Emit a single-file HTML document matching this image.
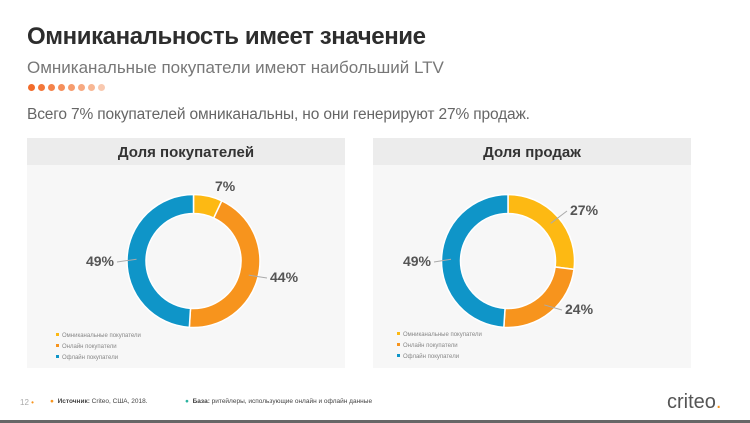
<!DOCTYPE html>
<html><head><meta charset="utf-8"><style>
body{margin:0;width:750px;height:423px;overflow:hidden;background:#fff;font-family:"Liberation Sans","DejaVu Sans",sans-serif;position:relative}
.t{position:absolute;white-space:nowrap}
.panel{position:absolute;top:138px;width:318px;height:230px;background:#f7f7f7}
.ph{position:absolute;left:0;top:0;width:100%;height:27px;background:#ececec;text-align:center;font-weight:bold;font-size:15px;line-height:29px;color:#333}
.dot{display:inline-block;width:7px;height:7px;border-radius:50%;margin-right:3px}
</style></head><body>
<div class="t" style="left:27px;top:23px;font-size:24px;letter-spacing:-0.4px;font-weight:bold;color:#2d2d2d">Омниканальность имеет значение</div>
<div class="t" style="left:27px;top:58px;font-size:17px;color:#777">Омниканальные покупатели имеют наибольший LTV</div>
<div class="t" style="left:28px;top:84px;font-size:0">
<span class="dot" style="background:#f26b2a"></span><span class="dot" style="background:#f3773a"></span><span class="dot" style="background:#f4834b"></span><span class="dot" style="background:#f58f5c"></span><span class="dot" style="background:#f69c6e"></span><span class="dot" style="background:#f7a981"></span><span class="dot" style="background:#f8b794"></span><span class="dot" style="background:#f9c9b0"></span></div>
<div class="t" style="left:27px;top:106px;font-size:15.5px;letter-spacing:-0.15px;color:#666">Всего 7% покупателей омниканальны, но они генерируют 27% продаж.</div>

<div class="panel" style="left:27px"><div class="ph">Доля покупателей</div></div>
<div class="panel" style="left:373px"><div class="ph">Доля продаж</div></div>

<svg id="ch" width="750" height="423" style="position:absolute;left:0;top:0"></svg>

<div class="t" style="left:20px;top:398px;font-size:8px;color:#aaa">12 <span style="color:#f7941d">•</span></div>
<div class="t" style="left:50px;top:398px;font-size:6.5px;color:#444"><span style="color:#f7941d">●</span>&nbsp; <b>Источник:</b> Criteo, США, 2018.</div>
<div class="t" style="left:185px;top:398px;font-size:6.5px;color:#444"><span style="color:#2ab3a0">●</span>&nbsp; <b>База:</b> ритейлеры, использующие онлайн и офлайн данные</div>
<div class="t" style="left:667px;top:391px;font-size:20px;color:#555">criteo<span style="color:#f7941d">.</span></div>
<div style="position:absolute;left:0;top:420px;width:750px;height:3px;background:#666"></div>

<script>
const categories=["Омниканальные покупатели","Онлайн покупатели","Офлайн покупатели"];
const colors=["#fdb913","#f7941d","#0f95c8"];
const buyersValues=[7,44,49];
const salesValues=[27,24,49];
const svg=document.getElementById('ch');
const NS="http://www.w3.org/2000/svg";
function mk(t,a){const e=document.createElementNS(NS,t);for(const k in a)e.setAttribute(k,a[k]);svg.appendChild(e);return e;}
function angle(v,total){return v/total*2*Math.PI;}
function pt(cx,cy,r,a){return [cx+r*Math.sin(a),cy-r*Math.cos(a)];}
function donut(cx,cy,vals,name,labelPos){
  const total=vals.reduce((a,b)=>a+b,0);const ro=66.5,ri=47.5;let a0=0;
  vals.forEach((v,i)=>{
    const a1=a0+angle(v,total);const lg=(a1-a0)>Math.PI?1:0;
    const p1=pt(cx,cy,ro,a0),p2=pt(cx,cy,ro,a1),p3=pt(cx,cy,ri,a1),p4=pt(cx,cy,ri,a0);
    const p=mk('path',{d:`M${p1}A${ro},${ro} 0 ${lg} 1 ${p2}L${p3}A${ri},${ri} 0 ${lg} 0 ${p4}Z`,fill:colors[i],stroke:'#fff','stroke-width':1.5});
    
    
    const mid=(a0+a1)/2;const m=pt(cx,cy,(ro+ri)/2,mid);
    const lp=labelPos[i];
    if(lp.line){const ln=mk('line',{x1:m[0],y1:m[1],x2:lp.lx,y2:lp.y-4,stroke:'#aaa','stroke-width':1});
      
      }
    const t=mk('text',{x:lp.x,y:lp.y,'font-size':14,'font-weight':'bold',fill:'#555','font-family':'Liberation Sans, sans-serif','text-anchor':lp.anchor});
    t.textContent=v+'%';
    
    
    a0=a1;
  });
}
donut(193.5,261,buyersValues,'buyers',[{x:215,y:191,anchor:'start',line:false},{x:270,y:282,anchor:'start',line:true,lx:267},{x:114,y:266,anchor:'end',line:true,lx:117}]);
donut(508,261,salesValues,'sales',[{x:570,y:215,anchor:'start',line:true,lx:567},{x:565,y:314,anchor:'start',line:true,lx:562},{x:431,y:266,anchor:'end',line:true,lx:434}]);
function legend(x,y,name){
  categories.forEach((c,i)=>{
    const r=mk('rect',{x:x,y:y+i*11-3,width:3,height:3,fill:colors[i]});
    
    
    const t=mk('text',{x:x+6,y:y+i*11+1,'font-size':6,fill:'#888','font-family':'Liberation Sans, sans-serif'});
    t.textContent=c;
    
    
  });
}
legend(56,336,'buyers');legend(397,335,'sales');
</script>
</body></html>
